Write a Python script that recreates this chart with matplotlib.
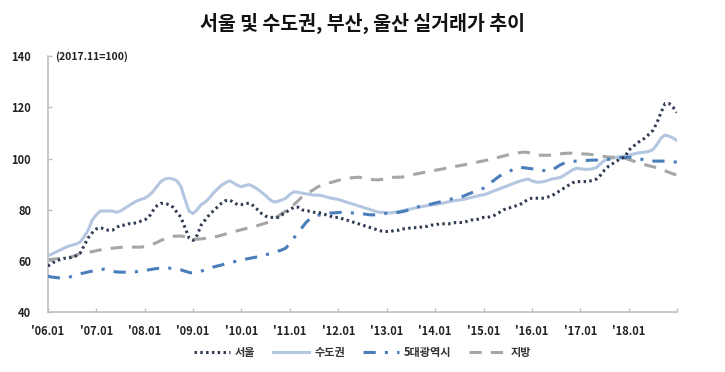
import numpy as np
import matplotlib
matplotlib.use('Agg')
import matplotlib.pyplot as plt

plt.rcParams['font.family'] = ['Noto Sans CJK KR', 'DejaVu Sans']

# monthly index values, 2006.01 - 2019.01 (2017.11=100)
seoul = [
    58, 59, 60, 60.5, 61, 61, 61.5, 62, 63, 66, 69, 71,
    72.5, 73, 72.5, 72, 72, 73, 74, 74, 74.5, 74.5, 75, 75.5,
    76, 77, 79.5, 81.5, 82.5, 82.5, 82, 81, 79, 77, 73, 69,
    68, 70, 74, 76, 78, 79.5, 81, 82.5, 83.5, 83.8, 83, 82,
    82, 82.5, 82.5, 81.5, 80, 78.5, 77.5, 77, 77, 77, 78, 79,
    80, 81, 81, 80, 79.5, 79.5, 79, 79, 78.5, 78, 77.5, 77,
    77, 76.5, 76, 75.5, 75, 74.5, 74, 73.5, 73, 72.5, 72, 71.5,
    71.5, 71.5, 72, 72, 72.5, 72.5, 73, 73, 73, 73.5, 73.5, 74,
    74, 74.5, 74.5, 74.5, 74.5, 75, 75, 75, 75.5, 76, 76, 76.5,
    77, 77, 77.5, 78, 79, 80, 80.5, 81, 81.5, 82, 83, 84,
    84.5, 84.5, 84.5, 84.5, 85, 85.5, 86.5, 87.5, 88.5, 89.5, 90.5, 91,
    91, 91, 91, 91.5, 92, 93.5, 95.5, 97, 98, 99, 100, 100.5,
    103.3, 104.5, 106, 107, 108, 109.5, 111, 114, 118, 121.5, 121.5, 120,
    118,
]
capital = [
    62, 62.7, 63.5, 64.2, 65, 65.7, 66.2, 66.6, 67.3, 69.5, 72, 76,
    78, 79.5, 79.5, 79.5, 79.5, 79, 79.5, 80.5, 81.5, 82.5, 83.4, 84,
    84.5, 85.5, 87, 89, 91, 92, 92.3, 92, 91.3, 89, 84, 79.5,
    78.5, 80, 82, 83, 84.5, 86.5, 88, 89.5, 90.5, 91.3, 90.5, 89.5,
    89, 89.5, 89.8, 89, 88, 86.8, 85.5, 84, 83, 83.3, 83.8, 84.5,
    86, 87, 86.8, 86.5, 86.2, 86, 85.7, 85.7, 85.5, 85, 84.6, 84.3,
    84, 83.5, 83, 82.5, 82, 81.5, 81, 80.5, 80, 79.5, 79, 79,
    78.8, 78.8, 79, 79.3, 79.6, 80, 80.3, 80.7, 81, 81.3, 81.6, 81.9,
    82, 82.3, 82.6, 83, 83.3, 83.6, 83.8, 84, 84.4, 84.8, 85.2, 85.6,
    85.8, 86.3, 87, 87.6, 88.2, 88.8, 89.4, 90, 90.6, 91.2, 91.6, 92,
    91.3, 90.8, 90.8, 91, 91.5, 92, 92.3, 92.6, 93.5, 94.5, 95.5, 96.2,
    96, 95.8, 95.8, 96, 96.5, 98, 99.3, 99.8, 100.2, 100.5, 100.8, 101,
    101.3, 101.7, 102.1, 102.3, 102.5, 102.8, 103.5, 105.5, 108, 109.2, 108.7, 108,
    107,
]
metro5 = [
    54, 53.7, 53.5, 53.3, 53.3, 53.5, 54, 54.5, 55, 55.3, 55.7, 56,
    56.3, 56.6, 56.8, 56.5, 56, 55.7, 55.6, 55.6, 55.6, 55.7, 55.8, 56,
    56.2, 56.5, 56.8, 57, 57.2, 57.2, 57.2, 57, 56.8, 56.5, 56, 55.5,
    55.2, 55.5, 56, 56.5, 57.2, 57.6, 58, 58.4, 58.8, 59.2, 59.6, 60,
    60.4, 60.7, 61, 61.3, 61.6, 62, 62.4, 62.8, 63.3, 63.8, 64.3, 65,
    67, 69, 71, 73, 75, 76.5, 77.3, 77.8, 78.2, 78.5, 78.7, 78.8,
    78.9, 79, 79, 78.8, 78.7, 78.6, 78.4, 78.2, 78, 78, 78.2, 78.4,
    78.6, 78.6, 78.8, 79, 79.3, 79.7, 80.2, 80.7, 81.2, 81.6, 82, 82.2,
    82.6, 83, 83.4, 83.8, 84.2, 84.5, 84.8, 85.3, 86, 86.6, 87.2, 87.8,
    88.4, 89.5, 90.8, 92, 93.2, 93.8, 94.5, 95.5, 96.3, 96.6, 96.4, 96.2,
    96, 95.8, 95.6, 95.3, 95, 95.5, 96.5, 97.5, 98.2, 98.6, 98.9, 99,
    99.1, 99.2, 99.3, 99.4, 99.4, 99.4, 99.5, 99.7, 100, 100.2, 100.3, 100.4,
    100.5, 100.5, 100.2, 99.8, 99.4, 99, 99, 99, 99, 99, 98.8, 98.7,
    98.6,
]
local = [
    60.5, 60.6, 60.8, 61, 61.2, 61.4, 61.6, 62.2, 63, 63.4, 63.5, 63.6,
    64, 64.3, 64.6, 64.8, 65, 65.1, 65.3, 65.4, 65.4, 65.4, 65.4, 65.4,
    65.6, 66, 66.5, 67.2, 68, 68.6, 69.2, 69.6, 69.7, 69.7, 69.5, 69,
    68.5, 68.5, 68.6, 68.8, 69, 69.3, 69.6, 70, 70.5, 71, 71.4, 71.8,
    72.2, 72.6, 73, 73.4, 73.8, 74.3, 74.8, 75.3, 76.2, 77.4, 78.5, 79.5,
    80.5, 82, 83.5, 85, 86, 87, 88, 89, 89.7, 90.2, 90.6, 91,
    91.5, 91.8, 92.1, 92.4, 92.6, 92.7, 92.5, 92.2, 91.9, 91.7, 91.7, 91.9,
    92.2, 92.5, 92.7, 92.7, 92.8, 93.1, 93.5, 93.9, 94.2, 94.5, 94.8, 95.1,
    95.4, 95.7, 96, 96.3, 96.6, 96.9, 97.2, 97.5, 97.8, 98.1, 98.4, 98.8,
    99.1, 99.4, 99.8, 100.2, 100.6, 101, 101.4, 101.8, 102.1, 102.3, 102.5, 102.4,
    101.8, 101.4, 101.3, 101.3, 101.3, 101.4, 101.6, 101.8, 102, 102.1, 102.1, 102,
    101.9, 101.8, 101.7, 101.5, 101.3, 101, 100.8, 100.6, 100.5, 100.5, 100.4, 100.2,
    99.6, 99.1, 98.6, 98.1, 97.6, 97.2, 96.8, 96.4, 95.8, 95.2, 94.6, 94,
    93.5,
]
tick_labels = ["'06.01", "'07.01", "'08.01", "'09.01", "'10.01", "'11.01", "'12.01",
               "'13.01", "'14.01", "'15.01", "'16.01", "'17.01", "'18.01", ""]
series_names = ['서울', '수도권', '5대광역시', '지방']

months = np.arange(len(seoul))

fig = plt.figure(figsize=(7.25, 3.72), dpi=100)
ax = fig.add_axes([0.066, 0.161, 0.868, 0.688])

ax.plot(months, capital, color='#b4c6e0', lw=2.2, label=series_names[1], zorder=2)
ax.plot(months, local, color='#a6a6a6', lw=2.2, ls=(0, (4, 3)), label=series_names[3], zorder=2)
ax.plot(months, metro5, color='#4a7ebb', lw=2.2, ls=(0, (4, 3, 1, 3)), label=series_names[2], zorder=3)
ax.plot(months, seoul, color='#2f3b52', lw=2.2, ls=(0, (0.8, 1.1)), label=series_names[0], zorder=4)

ax.set_xlim(0, len(seoul) - 1)
ax.set_ylim(40, 140)
ax.set_xticks(np.arange(0, len(seoul), 12))
ax.set_xticklabels(tick_labels)
ax.set_yticks(range(40, 141, 20))

for s in ['top', 'right']:
    ax.spines[s].set_visible(False)
for s in ['left', 'bottom']:
    ax.spines[s].set_color('#bfbfbf')
    ax.spines[s].set_linewidth(1.2)
ax.tick_params(axis='both', direction='in', length=3, color='#bfbfbf', width=1,
               labelsize=8, labelcolor='#222222')
ax.tick_params(axis='x', pad=9)
ax.tick_params(axis='y', pad=12)
for lbl in ax.get_xticklabels() + ax.get_yticklabels():
    lbl.set_fontweight('bold')

ax.text(0.012, 1.0, '(2017.11=100)', transform=ax.transAxes, fontsize=7.5,
        fontweight='bold', color='#222222', va='center', ha='left')

fig.suptitle('서울 및 수도권, 부산, 울산 실거래가 추이', x=0.5, y=0.965,
             fontsize=14, fontweight='bold', color='#111111')

h, l = ax.get_legend_handles_labels()
order = [3, 0, 2, 1]
leg = fig.legend([h[i] for i in order], [l[i] for i in order], loc='center',
                 bbox_to_anchor=(0.5, 0.052), ncol=4, frameon=False, fontsize=8,
                 handlelength=3.2, columnspacing=1.6, handletextpad=0.5)
for t in leg.get_texts():
    t.set_fontweight('bold')
    t.set_color('#333333')

fig.savefig('out.png', dpi=100)
